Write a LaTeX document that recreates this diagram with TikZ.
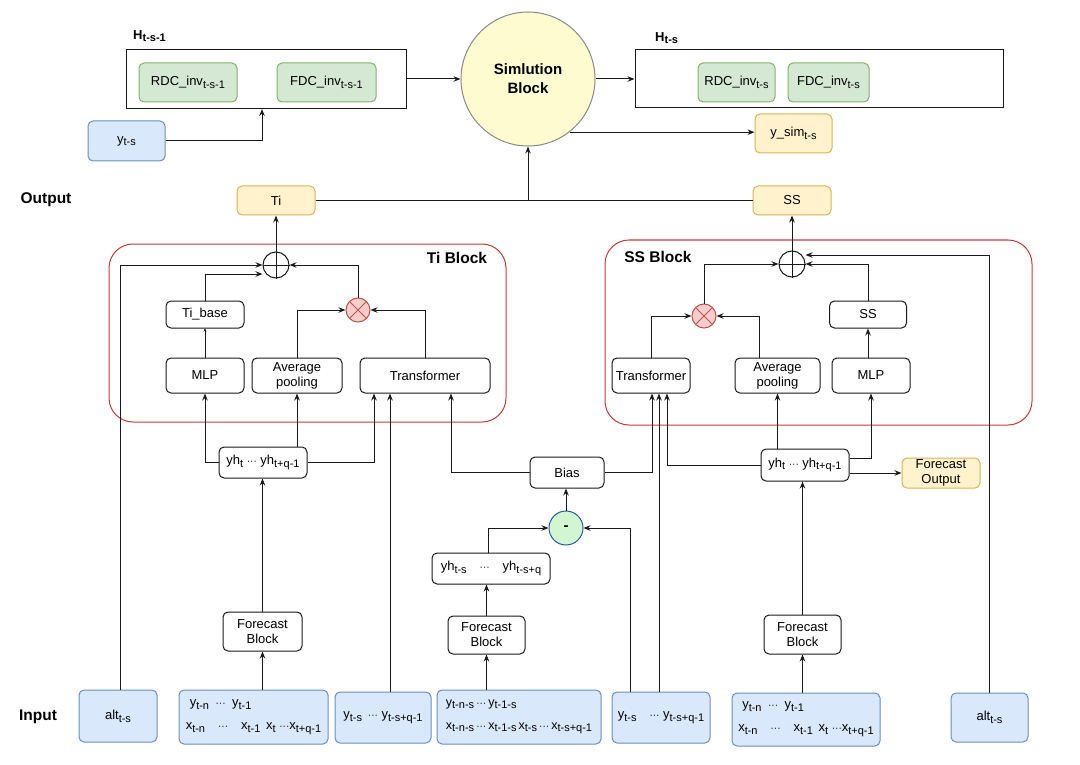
\documentclass[tikz,border=0pt]{standalone}
\usepackage{fontspec}
\setmainfont{Liberation Sans}
\usetikzlibrary{arrows.meta,calc}
\definecolor{bluef}{HTML}{DAE8FC}\definecolor{blued}{HTML}{6C8EBF}
\definecolor{greenf}{HTML}{D5E8D4}\definecolor{greend}{HTML}{82B366}
\definecolor{yelf}{HTML}{FFF2CC}\definecolor{yeld}{HTML}{D6B656}
\definecolor{pinkf}{HTML}{F8CECC}\definecolor{pinkd}{HTML}{B85450}
\definecolor{blockred}{HTML}{C83A3A}
\definecolor{simf}{HTML}{FDFBCF}\definecolor{simd}{HTML}{8A8A8A}
\definecolor{minf}{HTML}{D2F5D2}\definecolor{mind}{HTML}{2A5C98}
\definecolor{ln}{HTML}{1A1A1A}
\newcommand\sbs[1]{\raisebox{-0.4ex}{\fontsize{11}{11}\selectfont #1}}
\newcommand\dts{{\fontsize{10}{10}\selectfont ···}}
\begin{document}
\begin{tikzpicture}[x=1pt,y=-1pt,
  wh/.style 2 args={minimum width=#1pt,minimum height=#2pt},
  bx/.style={draw=ln,rounded corners=5pt,line width=1pt,align=center,inner sep=0pt,font=\fontsize{13}{15}\selectfont},
  bluebox/.style={bx,fill=bluef,draw=blued},
  greenbox/.style={bx,fill=greenf,draw=greend},
  yelbox/.style={bx,fill=yelf,draw=yeld},
  arr/.style={-{Stealth[length=7pt,width=5.5pt]},line width=1pt,draw=ln},
  sarr/.style={-{Stealth[length=3pt,width=3pt]},line width=1pt,draw=ln},
  lbl/.style={font=\bfseries\fontsize{15.5}{18}\selectfont,inner sep=0pt},
  hlbl/.style={font=\bfseries\fontsize{13}{15}\selectfont,inner sep=0pt,anchor=west},
  container/.style={draw=blockred,rounded corners=24pt,line width=1pt},
  opc/.style={circle,draw=ln,line width=1pt,inner sep=0pt,fill=white}
]
\useasboundingbox (0,0) rectangle (1080,765);
\fill[white] (0,0) rectangle (1080,765);

% ---------- top ----------
\node[draw=ln,line width=1pt,wh={280}{59}] (Hleft) at (266,79) {};
\node[hlbl] (HlabL) at (133,36) {H\sbs{t-s-1}};
\node[greenbox,wh={98}{39}] (rdcL) at (188,82.5) {RDC\_inv\sbs{t-s-1}};
\node[greenbox,wh={99}{39}] (fdcL) at (326.5,82.5) {FDC\_inv\sbs{t-s-1}};
\node[bluebox,wh={77}{40}] (ytsTop) at (126.5,141) {y\sbs{t-s}};
\node[circle,draw=simd,fill=simf,line width=1pt,minimum size=134pt,inner sep=0pt,align=center,font=\bfseries\fontsize{15}{19}\selectfont] (sim) at (528,79) {Simlution\\Block};
\node[draw=ln,line width=1pt,wh={368}{58}] (Hright) at (819,79) {};
\node[hlbl] (HlabR) at (655,38) {H\sbs{t-s}};
\node[greenbox,wh={77}{39}] (rdcR) at (736.5,82.5) {RDC\_inv\sbs{t-s}};
\node[greenbox,wh={81}{39}] (fdcR) at (828.5,82.5) {FDC\_inv\sbs{t-s}};
\node[yelbox,wh={77}{39}] (ysim) at (793.5,133.5) {y\_sim\sbs{t-s}};

\draw[arr] (ytsTop.east) -| ([xshift=-4pt]Hleft.south);
\draw[arr] (Hleft.east) -- (sim.west);
\draw[arr] (sim.east) -- (Hright.west);
\draw[arr] (sim.-52) -- (sim.-52 -| ysim.west);

% ---------- output row ----------
\node[lbl] (outlbl) at (46,200) {Output};
\node[yelbox,wh={78}{29}] (Ti) at (276,200.5) {Ti};
\node[yelbox,wh={78}{29}] (SS) at (792,200.5) {SS};
\draw[line width=1pt,draw=ln] (Ti.east) -- (SS.west);
\draw[arr] (Ti.east -| sim.south) -- (sim.south);

% ---------- Ti block ----------
\draw[container] (109,244) rectangle (506,422);
\node[lbl] (tiblk) at (457,258) {Ti Block};
\node[opc,minimum size=26pt] (plusL) at (276,265) {};
\draw[line width=1pt,draw=ln] (plusL.north) -- (plusL.south) (plusL.west) -- (plusL.east);
\node[opc,fill=pinkf,draw=pinkd,minimum size=24pt] (multL) at (358,310) {};
\draw[line width=1pt,draw=pinkd] (multL.north west) -- (multL.south east) (multL.north east) -- (multL.south west);
\node[bx,wh={78}{27}] (tibase) at (205,314.5) {Ti\_base};
\node[bx,wh={78}{35}] (mlpL) at (205,375.5) {MLP};
\node[bx,wh={90}{35}] (avgL) at (297,375.5) {Average\\pooling};
\node[bx,wh={130}{35}] (trL) at (425,375.5) {Transformer};

\draw[arr] (plusL.north) -- (Ti.south);
\draw[sarr] (mlpL.north) -- (tibase.south);
\draw[arr] (tibase.north) |- ([yshift=-9pt]plusL.west);
\draw[arr] (multL.north) |- (plusL.east);
\draw[arr] (avgL.north) |- (multL.west);
\draw[arr] (trL.north) |- (multL.east);

% ---------- SS block ----------
\draw[container] (605,240) rectangle (1032,425);
\node[lbl] (ssblk) at (658,257) {SS Block};
\node[opc,minimum size=26pt] (plusR) at (792,264) {};
\draw[line width=1pt,draw=ln] (plusR.north) -- (plusR.south) (plusR.west) -- (plusR.east);
\node[opc,fill=pinkf,draw=pinkd,minimum size=24pt] (multR) at (704,316) {};
\draw[line width=1pt,draw=pinkd] (multR.north west) -- (multR.south east) (multR.north east) -- (multR.south west);
\node[bx,wh={78}{35}] (trR) at (651,375.5) {Transformer};
\node[bx,wh={85}{35}] (avgR) at (777.5,375.5) {Average\\pooling};
\node[bx,wh={78}{35}] (mlpR) at (871,375.5) {MLP};
\node[bx,wh={77}{27}] (ssIn) at (868,314.5) {SS};

\draw[arr] (plusR.north) -- (SS.south);
\draw[arr] (mlpR.north -| ssIn.south) -- (ssIn.south);
\draw[arr] (ssIn.north) |- (plusR.east);
\draw[arr] (multR.north) |- (plusR.west);
\draw[arr] ([xshift=-18.5pt]avgR.north) |- (multR.east);
\draw[arr] (trR.north) |- (multR.west);

% ---------- middle ----------
\node[bx,wh={88}{31}] (yhL) at (263,462.5) {yh\sbs{t} \dts{} yh\sbs{t+q-1}};
\node[bx,wh={79}{39}] (fbL) at (262.5,631.5) {Forecast\\Block};
\node[bx,wh={74}{31}] (bias) at (567,472.5) {Bias};
\node[circle,draw=mind,fill=minf,line width=1pt,minimum size=34pt,inner sep=0pt,font=\bfseries\fontsize{15}{15}\selectfont] (minus) at (566,528) {-};
\node[bx,wh={118}{31}] (yhM) at (491,568.5) {yh\sbs{t-s}\quad\dts\quad yh\sbs{t-s+q}};
\node[bx,wh={77}{38}] (fbM) at (486.5,635) {Forecast\\Block};
\node[bx,wh={88}{32}] (yhR) at (805,465) {yh\sbs{t} \dts{} yh\sbs{t+q-1}};
\node[yelbox,wh={78}{30}] (fo) at (941,473) {Forecast\\Output};
\node[bx,wh={77}{39}] (fbR) at (802.5,634.5) {Forecast\\Block};

% ---------- inputs ----------
\node[lbl] (inlbl) at (38,717) {Input};
\node[bluebox,wh={78}{52}] (altL) at (118,716) {alt\sbs{t-s}};
\node[bluebox,wh={149}{54},align=left] (inL) at (253.5,717) {\hspace*{4pt}y\sbs{t-n}\enspace\dts\enspace y\sbs{t-1}\\[8pt]x\sbs{t-n}\quad\dts\quad x\sbs{t-1}\, x\sbs{t} \dts x\sbs{t+q-1}};
\node[bluebox,wh={96}{51}] (yinL) at (383,717.5) {y\sbs{t-s}\, \dts{} y\sbs{t-s+q-1}};
\node[bluebox,wh={164}{54},align=left,font=\fontsize{12.5}{15}\selectfont] (inM) at (519,717) {y\sbs{t-n-s}\,\dts\,y\sbs{t-1-s}\\[8pt]x\sbs{t-n-s}\,\dts\,x\sbs{t-1-s}\,x\sbs{t-s}\,\dts\,x\sbs{t-s+q-1}};
\node[bluebox,wh={98}{51}] (yinR) at (661,717.5) {y\sbs{t-s}\quad\dts{} y\sbs{t-s+q-1}};
\node[bluebox,wh={148}{53},align=left] (inR) at (806,719.5) {\hspace*{4pt}y\sbs{t-n}\enspace\dts\enspace y\sbs{t-1}\\[8pt]x\sbs{t-n}\quad\dts\quad x\sbs{t-1}\, x\sbs{t} \dts x\sbs{t+q-1}};
\node[bluebox,wh={77}{49}] (altR) at (989.5,717.5) {alt\sbs{t-s}};

% ---------- connectors (middle) ----------
\draw[arr] ([xshift=2pt]altL.north) |- (plusL.west);
\draw[arr] (altR.north) |- ([yshift=9pt]plusR.east);

\draw[arr] (fbL.south |- inL.north) -- (fbL.south);
\draw[arr] (fbL.north) -- (fbL.north |- yhL.south);
\draw[arr] (yhL.west) -| (mlpL.south);
\draw[arr] (yhL.north -| avgL.south) -- (avgL.south);
\draw[arr] (yhL.east) -| ([xshift=-51pt]trL.south);
\draw[arr] ([xshift=7pt]yinL.north) -- ([xshift=7pt]yinL.north |- trL.south);
\draw[arr] (bias.west) -| ([xshift=26pt]trL.south);
\draw[arr] (bias.east) -| ([xshift=1pt]trR.south);
\draw[arr] ([xshift=-2pt]yinR.north) -- ([xshift=-2pt]yinR.north |- trR.south);
\draw[arr] (yhR.west) -| ([xshift=16pt]trR.south);
\draw[arr] ([xshift=-31pt]yinR.north) |- (minus.east);
\draw[arr] ([xshift=-3pt]yhM.north) |- (minus.west);
\draw[arr] (minus.north) -- (minus.north |- bias.south);
\draw[arr] (fbM.north) -- (fbM.north |- yhM.south);
\draw[arr] (fbM.south |- inM.north) -- (fbM.south);

\draw[arr] (fbR.south |- inR.north) -- (fbR.south);
\draw[arr] (fbR.north) -- (fbR.north |- yhR.south);
\draw[arr] (yhR.north -| avgR.south) -- (avgR.south);
\draw[arr] ([yshift=7pt]yhR.east) -| (mlpR.south);
\draw[arr] (yhR.east |- fo.west) -- (fo.west);
\end{tikzpicture}
\end{document}
